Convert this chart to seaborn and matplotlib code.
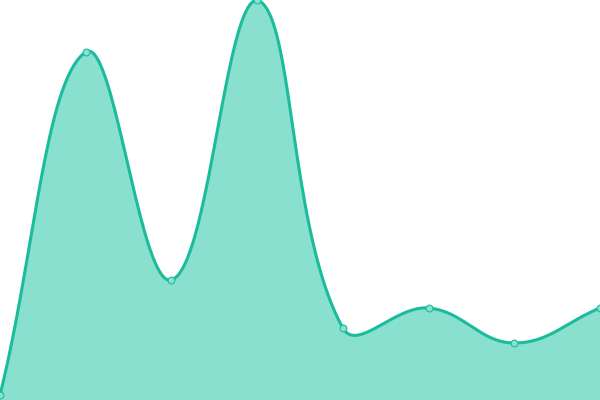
import numpy as np
import pandas as pd
import matplotlib
matplotlib.use('Agg')
import matplotlib.pyplot as plt
import seaborn as sns

# values
positions = [0, 1, 2, 3, 4, 5, 6, 7]
values = [5, 348, 120, 400, 72, 92, 57, 92]

line_color = '#1abc9c'
fill_color = '#8ae0cf'

W, H = 600, 400
x_max, y_max = 7, 400


def spline_curve(xs, ys, tension=0.4, steps=40):
    # Chart.js style cubic, worked out in pixel space
    px = np.array(xs, float) * W / x_max
    py = H - np.array(ys, float) * H / y_max
    n = len(px)
    cps = []
    for i in range(n):
        prev = (px[max(i - 1, 0)], py[max(i - 1, 0)])
        cur = (px[i], py[i])
        nxt = (px[min(i + 1, n - 1)], py[min(i + 1, n - 1)])
        d01 = np.hypot(cur[0] - prev[0], cur[1] - prev[1])
        d12 = np.hypot(nxt[0] - cur[0], nxt[1] - cur[1])
        tot = d01 + d12
        s01 = d01 / tot if tot else 0
        s12 = d12 / tot if tot else 0
        fa, fb = tension * s01, tension * s12
        c1 = [cur[0] - fa * (nxt[0] - prev[0]), cur[1] - fa * (nxt[1] - prev[1])]
        c2 = [cur[0] + fb * (nxt[0] - prev[0]), cur[1] + fb * (nxt[1] - prev[1])]
        for c in (c1, c2):
            c[0] = min(max(c[0], 0), W)
            c[1] = min(max(c[1], 0), H)
        cps.append((c1, c2))
    cx, cy = [], []
    t = np.linspace(0, 1, steps)
    for i in range(n - 1):
        p0 = np.array([px[i], py[i]])
        p1 = np.array(cps[i][1])
        p2 = np.array(cps[i + 1][0])
        p3 = np.array([px[i + 1], py[i + 1]])
        seg = ((1 - t) ** 3)[:, None] * p0 + (3 * (1 - t) ** 2 * t)[:, None] * p1 \
            + (3 * (1 - t) * t ** 2)[:, None] * p2 + (t ** 3)[:, None] * p3
        cx.extend(seg[:, 0])
        cy.extend(seg[:, 1])
    cx = np.array(cx) * x_max / W
    cy = (H - np.array(cy)) * y_max / H
    return cx, cy


sx, sy = spline_curve(positions, values)
curve = pd.DataFrame({'x': sx, 'y': sy})
points = pd.DataFrame({'x': positions, 'y': values})

fig = plt.figure(figsize=(6, 4), dpi=100)
ax = fig.add_axes([0, 0, 1, 1])
ax.fill_between(curve['x'], curve['y'], 0, color=fill_color, linewidth=0)
sns.lineplot(x='x', y='y', data=curve, ax=ax, color=line_color, linewidth=2.2,
             sort=False, estimator=None)
sns.scatterplot(x='x', y='y', data=points, ax=ax, s=24, color=fill_color,
                edgecolor=line_color, linewidth=0.8, zorder=5)
ax.set_xlim(0, x_max)
ax.set_ylim(0, y_max)
ax.axis('off')
fig.savefig('out.png', dpi=100)
